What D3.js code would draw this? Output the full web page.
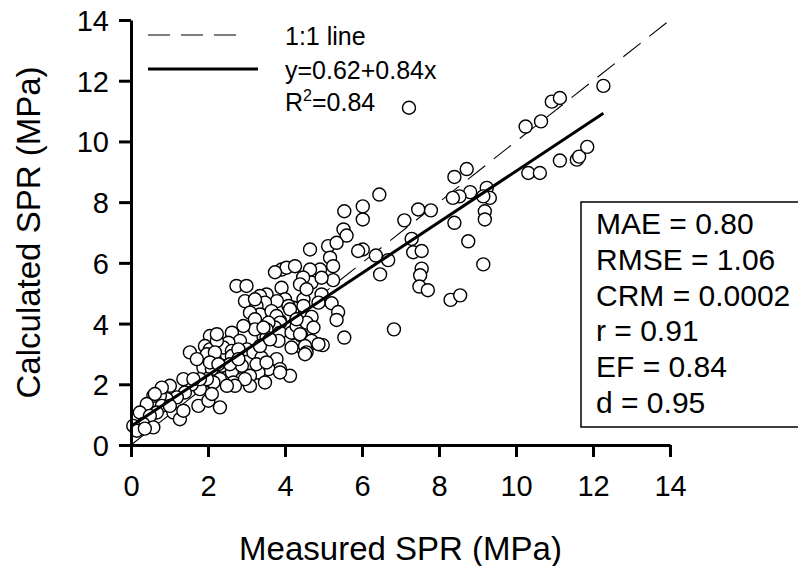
<!DOCTYPE html>
<html>
<head>
<meta charset="utf-8">
<script src="https://cdn.jsdelivr.net/npm/d3@7"></script>
<style>
  body { margin: 0; background: #fff; }
  svg text { font-family: "Liberation Sans", Arial, sans-serif; fill: #000; }
</style>
</head>
<body>
<svg id="chart" width="798" height="566"></svg>
<script>
// measured vs calculated SPR (MPa)
var measured = [
  12.27, 10.93, 11.14, 10.25, 10.65, 11.14, 11.58, 11.64, 11.85, 10.32, 10.62, 9.24, 9.32, 9.19, 9.19, 9.15,
  8.72, 8.40, 9.15, 8.81, 8.53, 8.36, 8.40, 8.76, 7.79, 7.46, 7.10, 6.45, 6.02, 6.02, 6.02, 7.29,
  7.33, 7.55, 6.36, 6.68, 6.47, 7.55, 7.51, 7.49, 7.71, 8.30, 8.55, 6.83, 7.22,
  5.54, 5.52, 5.60, 5.12, 5.34, 4.65, 5.90, 5.17, 5.25, 4.91, 4.65, 4.69, 5.25, 4.95, 5.21, 5.38,
  5.34, 4.69, 4.56, 5.54, 4.98, 4.48, 4.48, 4.47,
  3.91, 4.04, 4.26, 3.74, 4.39, 3.91, 3.52, 4.00, 4.22, 3.70, 3.44, 3.52, 3.87, 4.43, 4.22, 3.74,
  4.74, 3.44,
  2.74, 3.00, 2.96, 3.79, 4.09, 3.35, 3.48, 3.26, 3.35, 3.09, 3.22, 3.65, 3.78, 3.87, 3.74, 3.57,
  3.52, 3.87, 4.17, 4.30, 4.56, 4.74, 4.43, 4.69, 4.52, 4.56, 3.83, 3.52, 3.22, 2.92, 2.62, 2.83,
  2.53, 2.40, 2.62, 2.05, 1.92, 2.05, 4.95, 4.48, 4.87,
  3.22, 4.13, 4.39, 4.17, 2.23, 2.62, 1.97, 2.18, 1.88, 2.10, 2.36, 2.62, 2.88, 3.01, 3.18, 3.39,
  3.78, 3.87, 4.13, 3.57, 3.31, 3.09, 2.88, 2.66, 2.31, 2.05, 3.09, 3.48, 3.44, 4.30, 4.87,
  2.23, 2.79, 3.35, 3.61, 4.52, 1.53, 1.71, 2.57, 2.79, 3.26, 3.52, 3.87, 2.96, 2.70, 2.49, 2.14,
  1.79, 1.58, 1.40, 1.36, 1.01, 1.19, 0.93, 0.75, 0.58, 0.80, 0.41, 0.67, 1.10, 1.27, 0.23, 0.49,
  0.32, 0.58, 0.06, 0.15, 2.31, 1.75, 2.01,
  0.80, 0.62, 1.01, 1.36, 2.10, 1.97, 1.79, 1.62, 0.36, 2.18, 2.05, 2.27, 4.56
];
var calculated = [
  11.83, 11.31, 11.43, 10.49, 10.66, 9.37, 9.40, 9.50, 9.82, 8.96, 8.96, 8.47, 8.14, 7.70, 7.43, 5.95,
  9.09, 8.83, 8.19, 8.33, 8.19, 8.14, 7.32, 6.71, 7.73, 7.76, 7.40, 8.25, 7.86, 7.43, 6.44, 6.79,
  6.35, 6.39, 6.24, 6.09, 5.62, 5.81, 5.59, 5.22, 5.10, 4.78, 4.93, 3.81, 11.11,
  7.70, 7.10, 6.90, 6.55, 6.66, 6.44, 6.39, 6.17, 5.89, 5.78, 5.78, 5.35, 5.43, 4.96, 4.67, 4.38,
  4.12, 4.22, 3.59, 3.54, 3.29, 3.15, 4.80, 5.52,
  5.78, 5.84, 5.89, 5.69, 5.29, 5.18, 4.96, 4.80, 4.52, 4.30, 4.14, 3.92, 4.09, 3.87, 3.70, 3.65,
  3.37, 3.59,
  5.24, 5.24, 4.74, 4.74, 4.58, 4.91, 4.69, 4.58, 4.30, 4.36, 4.14, 4.41, 4.25, 4.03, 3.87, 4.03,
  3.81, 3.70, 3.70, 3.92, 4.03, 3.87, 3.59, 3.43, 3.26, 3.05, 3.43, 3.54, 3.81, 3.92, 3.70, 3.43,
  3.37, 3.21, 3.10, 3.59, 3.26, 3.15, 5.51, 4.58, 4.69,
  4.80, 4.47, 3.65, 3.21, 3.43, 2.93, 2.99, 2.83, 2.55, 2.50, 2.61, 2.39, 2.61, 3.15, 3.05, 2.88,
  2.83, 2.50, 2.28, 2.50, 2.39, 2.28, 2.17, 2.06, 2.17, 2.11, 1.95, 2.06, 3.87, 4.14, 3.32,
  3.65, 3.15, 3.26, 3.48, 2.99, 3.05, 2.83, 2.66, 2.83, 2.66, 2.72, 2.39, 2.17, 1.95, 1.95, 2.06,
  1.84, 2.00, 1.73, 2.17, 1.95, 1.57, 1.51, 1.62, 1.62, 1.29, 1.35, 1.07, 1.07, 0.85, 1.07, 0.96,
  0.69, 0.58, 0.63, 0.47, 1.24, 1.29, 1.46,
  1.89, 1.68, 1.29, 1.13, 1.68, 2.17, 2.17, 2.17, 0.54, 3.05, 2.72, 2.66, 5.13
];

var xTicks = [0, 2, 4, 6, 8, 10, 12, 14];
var yTicks = [0, 2, 4, 6, 8, 10, 12, 14];

// regression y = a + b x, drawn over the measured range
var fitIntercept = 0.62;
var fitSlope = 0.84;
var fitRange = [0.03, 12.27];

var legendLabels = ["1:1 line", "y=0.62+0.84x"];
var statLines = ["MAE = 0.80", "RMSE = 1.06", "CRM = 0.0002", "r = 0.91", "EF = 0.84", "d = 0.95"];

var svg = d3.select("#chart");

var x = d3.scaleLinear().domain([0, 14]).range([131, 670]);
var y = d3.scaleLinear().domain([0, 14]).range([445, 20]);

// 1:1 line
svg.append("line")
    .attr("x1", x(0)).attr("y1", y(0))
    .attr("x2", x(14)).attr("y2", y(14))
    .attr("stroke", "#000")
    .attr("stroke-width", 1.1)
    .attr("stroke-dasharray", "22,11");

// points
var pts = measured.map(function (m, i) { return { m: m, c: calculated[i] }; });
svg.append("g").selectAll("circle")
    .data(pts)
    .join("circle")
    .attr("cx", function (d) { return x(d.m); })
    .attr("cy", function (d) { return y(d.c); })
    .attr("r", 6.5)
    .attr("fill", "#fff")
    .attr("stroke", "#000")
    .attr("stroke-width", 1.4);

// regression line on top of the points
svg.append("line")
    .attr("x1", x(fitRange[0])).attr("y1", y(fitIntercept + fitSlope * fitRange[0]))
    .attr("x2", x(fitRange[1])).attr("y2", y(fitIntercept + fitSlope * fitRange[1]))
    .attr("stroke", "#000")
    .attr("stroke-width", 3);

// axes
var xAxis = d3.axisBottom(x).tickValues(xTicks).tickSize(12).tickPadding(18).tickSizeOuter(0);
var yAxis = d3.axisLeft(y).tickValues(yTicks).tickSize(12).tickPadding(10).tickSizeOuter(0);

var gx = svg.append("g").attr("transform", "translate(0," + y(0) + ")").call(xAxis);
var gy = svg.append("g").attr("transform", "translate(" + x(0) + ",0)").call(yAxis);

[gx, gy].forEach(function (g) {
    g.select(".domain").attr("stroke", "#000").attr("stroke-width", 3);
    g.selectAll(".tick line").attr("stroke", "#000").attr("stroke-width", 3);
    g.selectAll(".tick text")
        .attr("fill", "#000")
        .style("font-family", "'Liberation Sans', Arial, sans-serif")
        .style("font-size", "29px");
});
gy.selectAll(".tick text").attr("dy", "0.36em");

// axis titles
svg.append("text")
    .attr("x", (x(0) + x(14)) / 2)
    .attr("y", 560)
    .attr("text-anchor", "middle")
    .style("font-size", "33px")
    .text("Measured SPR (MPa)");

svg.append("text")
    .attr("transform", "translate(40," + (y(0) + y(14)) / 2 + ") rotate(-90)")
    .attr("text-anchor", "middle")
    .style("font-size", "33px")
    .text("Calculated SPR (MPa)");

// legend
svg.append("line")
    .attr("x1", 148).attr("x2", 247).attr("y1", 35).attr("y2", 35)
    .attr("stroke", "#000").attr("stroke-width", 1.1)
    .attr("stroke-dasharray", "22,11");
svg.append("line")
    .attr("x1", 148).attr("x2", 258).attr("y1", 69).attr("y2", 69)
    .attr("stroke", "#000").attr("stroke-width", 3);

svg.append("text").attr("x", 285).attr("y", 45).style("font-size", "25px").text(legendLabels[0]);
svg.append("text").attr("x", 285).attr("y", 79).style("font-size", "25px").text(legendLabels[1]);
var r2 = svg.append("text").attr("x", 285).attr("y", 111).style("font-size", "25px");
r2.append("tspan").text("R");
r2.append("tspan").attr("dy", -10).style("font-size", "16px").text("2");
r2.append("tspan").attr("dy", 10).text("=0.84");

// stats box
svg.append("rect")
    .attr("x", 581).attr("y", 202)
    .attr("width", 230).attr("height", 225)
    .attr("fill", "none")
    .attr("stroke", "#000")
    .attr("stroke-width", 1.5);

svg.append("g").selectAll("text")
    .data(statLines)
    .join("text")
    .attr("x", 596)
    .attr("y", function (d, i) { return 234 + i * 35.8; })
    .style("font-size", "30px")
    .text(function (d) { return d; });
</script>
</body>
</html>
